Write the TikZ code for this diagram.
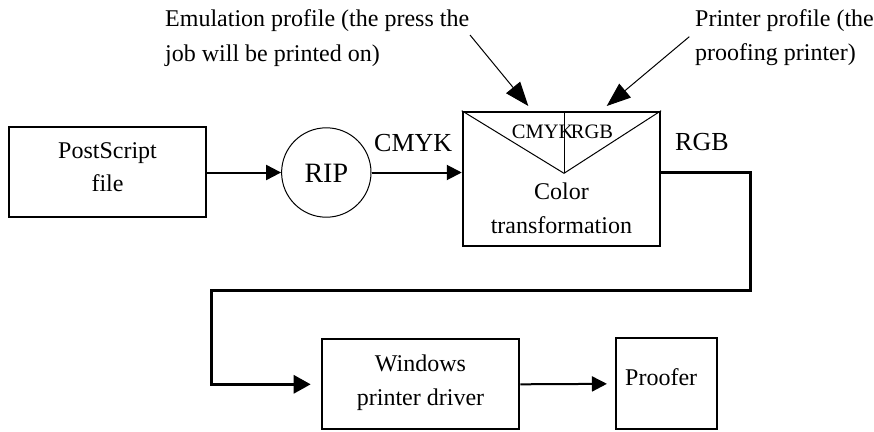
\documentclass[tikz,border=0pt]{standalone}
\usepackage{fontspec}
\setmainfont{Liberation Serif}
\usetikzlibrary{arrows.meta}

\begin{document}
\begin{tikzpicture}[x=1pt,y=-1pt,
  box/.style={draw, line width=2pt, inner sep=0pt, rectangle},
  txt/.style={font=\fontsize{24}{34}\selectfont, anchor=base, inner sep=0pt},
  txtw/.style={txt, anchor=base west},
  lbl/.style={font=\fontsize{26}{30}\selectfont, anchor=base west, inner sep=0pt},
  small/.style={font=\fontsize{20.5}{24}\selectfont, anchor=base west, inner sep=0pt},
  conn/.style={line width=2pt, -{Triangle[length=15pt,width=15pt]}},
  route/.style={line width=3pt, -{Triangle[length=17pt,width=18pt]}},
  callout/.style={line width=1pt, -{Triangle[length=24pt,width=18pt]}},
  thin/.style={line width=1pt}]

\useasboundingbox (0,0) rectangle (874,431);

% boxes of the flow
\node[box, minimum width=196.4pt, minimum height=90pt] (ps) at (107.5,171.7) {};
\node[draw, circle, line width=1pt, minimum size=89.4pt, inner sep=0pt] (rip) at (326.3,172.5) {};
\node[box, minimum width=197.3pt, minimum height=134pt] (ct) at (561.4,178.7) {};
\node[box, minimum width=197.6pt, minimum height=90pt] (win) at (420.5,384.3) {};
\node[box, minimum width=100.7pt, minimum height=91pt] (proof) at (666.3,383.8) {};

% texts inside the boxes
\node[txt] (ps1) at (107.5,158.3) {PostScript};
\node[txt] (ps2) at (107.5,191.7) {file};
\node[font=\fontsize{28}{32}\selectfont, anchor=base, inner sep=0pt] (riptxt) at (326.3,182.3) {RIP};
\node[txt] (ct1) at (561.4,199.3) {Color};
\node[txt] (ct2) at (561.4,233.3) {transformation};
\node[txt] (win1) at (420.5,371.7) {Windows};
\node[txt] (win2) at (420.5,405) {printer driver};
\node[txtw] (proof1) at (625,385) {Proofer};

% profile split inside the transformation box
\coordinate (vtx) at (564,173.3);
\draw[thin] (ct.north west) -- (vtx) -- (ct.north east);
\draw[thin] (vtx) -- (vtx |- ct.north);
\node[small] (in1) at (511.7,138.3) {CMYK};
\node[small] (in2) at (570.7,138.3) {RGB};

% connector labels
\node[lbl] (cmyk) at (374,151) {CMYK};
\node[lbl] (rgb) at (675,150) {RGB};

% callouts
\node[txtw] (em1) at (165,26.7) {Emulation profile (the press the};
\node[txtw] (em2) at (165,61.2) {job will be printed on)};
\node[txtw] (pr1) at (695,26.7) {Printer profile (the};
\node[txtw] (pr2) at (695,60.5) {proofing printer)};
\coordinate (emtail) at (470,35);
\coordinate (emtip) at (528.3,106);
\coordinate (prtail) at (689.3,36.7);
\coordinate (prtip) at (606.7,106);
\draw[callout] (emtail) -- (emtip);
\draw[callout] (prtail) -- (prtip);

% connectors
\draw[conn] (ps.east |- rip.west) -- (rip.west);
\draw[conn] (rip.east) -- (rip.east -| ct.west);
\coordinate (r1) at (750,172.5);
\coordinate (r2) at (750,290);
\coordinate (r3) at (211.7,290);
\draw[route, shorten >=10pt] (ct.east |- r1) -- (r1) -- (r2) -- (r3) -- (r3 |- win.west) -- (win.west);
\draw[conn, shorten >=8pt] (win.east) -- (proof.west);
\end{tikzpicture}
\end{document}
